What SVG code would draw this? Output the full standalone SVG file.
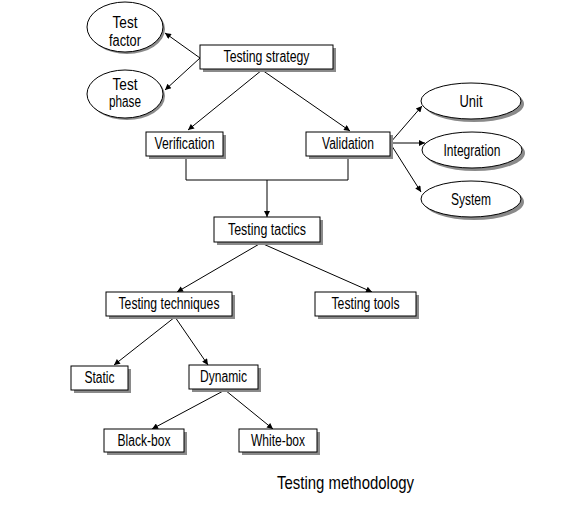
<svg xmlns="http://www.w3.org/2000/svg" width="582" height="508" viewBox="0 0 582 508">
<style>
.box{fill:#fff;stroke:#000;stroke-width:1}
.sh{fill:#8a8a8a}
.t{font-family:"Liberation Sans",Arial,sans-serif;font-size:16px;fill:#000;text-anchor:middle}
.c{fill:none;stroke:#000;stroke-width:1;marker-end:url(#ah)}
.l{fill:none;stroke:#000;stroke-width:1}
</style>
<defs>
<marker id="ah" viewBox="0 0 10 10" refX="10" refY="5" markerWidth="9" markerHeight="6" markerUnits="userSpaceOnUse" orient="auto">
<path d="M0,0 L10,5 L0,10 z" fill="#000"/>
</marker>
</defs>
<rect width="582" height="508" fill="#fff"/>
<g id="connectors">
<line class="c" x1="200" y1="58" x2="165" y2="33"/>
<line class="c" x1="200" y1="58" x2="165" y2="90"/>
<line class="c" x1="262" y1="70" x2="188" y2="130"/>
<line class="c" x1="262" y1="70" x2="350" y2="131"/>
<line class="c" x1="390" y1="143" x2="422" y2="106"/>
<line class="c" x1="390" y1="143" x2="425" y2="143"/>
<line class="c" x1="390" y1="143" x2="421" y2="192"/>
<polyline class="l" points="186,156 186,180 348,180 348,156"/>
<line class="c" x1="267" y1="180" x2="267" y2="217"/>
<line class="c" x1="261" y1="243" x2="177" y2="292"/>
<line class="c" x1="261" y1="243" x2="372" y2="292"/>
<line class="c" x1="175" y1="317" x2="114" y2="365"/>
<line class="c" x1="175" y1="317" x2="208" y2="365"/>
<line class="c" x1="225" y1="390" x2="152" y2="429"/>
<line class="c" x1="225" y1="390" x2="273" y2="429"/>
</g>
<g id="test-factor">
<ellipse class="sh" cx="127" cy="29" rx="38" ry="25"/>
<ellipse class="box" cx="125" cy="27" rx="38" ry="25"/>
<text class="t" x="125" y="28" textLength="25" lengthAdjust="spacingAndGlyphs">Test</text>
<text class="t" x="125" y="46" textLength="32" lengthAdjust="spacingAndGlyphs">factor</text>
</g>
<g id="test-phase">
<ellipse class="sh" cx="127" cy="96" rx="38" ry="24"/>
<ellipse class="box" cx="125" cy="94" rx="38" ry="24"/>
<text class="t" x="125" y="90" textLength="25" lengthAdjust="spacingAndGlyphs">Test</text>
<text class="t" x="125" y="107" textLength="32" lengthAdjust="spacingAndGlyphs">phase</text>
</g>
<g id="testing-strategy">
<rect class="sh" x="203" y="48" width="133" height="24"/>
<rect class="box" x="200" y="45" width="133" height="24"/>
<text class="t" x="266.5" y="62" textLength="86" lengthAdjust="spacingAndGlyphs">Testing strategy</text>
</g>
<g id="verification">
<rect class="sh" x="149" y="135" width="77" height="24"/>
<rect class="box" x="146" y="132" width="77" height="24"/>
<text class="t" x="184.5" y="149" textLength="60" lengthAdjust="spacingAndGlyphs">Verification</text>
</g>
<g id="validation">
<rect class="sh" x="309" y="135" width="84" height="24"/>
<rect class="box" x="306" y="132" width="84" height="24"/>
<text class="t" x="348" y="149" textLength="52" lengthAdjust="spacingAndGlyphs">Validation</text>
</g>
<g id="unit">
<ellipse class="sh" cx="474" cy="104" rx="50" ry="18"/>
<ellipse class="box" cx="471" cy="101" rx="50" ry="18"/>
<text class="t" x="471" y="106.5" textLength="23" lengthAdjust="spacingAndGlyphs">Unit</text>
</g>
<g id="integration">
<ellipse class="sh" cx="475" cy="153" rx="50" ry="18"/>
<ellipse class="box" cx="472" cy="150" rx="50" ry="18"/>
<text class="t" x="472" y="155.5" textLength="57" lengthAdjust="spacingAndGlyphs">Integration</text>
</g>
<g id="system">
<ellipse class="sh" cx="474" cy="202" rx="50" ry="18"/>
<ellipse class="box" cx="471" cy="199" rx="50" ry="18"/>
<text class="t" x="471" y="204.5" textLength="40" lengthAdjust="spacingAndGlyphs">System</text>
</g>
<g id="testing-tactics">
<rect class="sh" x="217" y="220" width="106" height="25"/>
<rect class="box" x="214" y="217" width="106" height="25"/>
<text class="t" x="267" y="234.5" textLength="78" lengthAdjust="spacingAndGlyphs">Testing tactics</text>
</g>
<g id="testing-techniques">
<rect class="sh" x="109" y="295" width="126" height="24"/>
<rect class="box" x="106" y="292" width="126" height="24"/>
<text class="t" x="169" y="309" textLength="101" lengthAdjust="spacingAndGlyphs">Testing techniques</text>
</g>
<g id="testing-tools">
<rect class="sh" x="318" y="295" width="101" height="24"/>
<rect class="box" x="315" y="292" width="101" height="24"/>
<text class="t" x="365.5" y="309" textLength="68" lengthAdjust="spacingAndGlyphs">Testing tools</text>
</g>
<g id="static">
<rect class="sh" x="74" y="369" width="57" height="24"/>
<rect class="box" x="71" y="366" width="57" height="24"/>
<text class="t" x="99.5" y="383" textLength="30" lengthAdjust="spacingAndGlyphs">Static</text>
</g>
<g id="dynamic">
<rect class="sh" x="192" y="368" width="69" height="24"/>
<rect class="box" x="189" y="365" width="69" height="24"/>
<text class="t" x="223.5" y="382" textLength="47" lengthAdjust="spacingAndGlyphs">Dynamic</text>
</g>
<g id="black-box">
<rect class="sh" x="107" y="432" width="80" height="23"/>
<rect class="box" x="104" y="429" width="80" height="23"/>
<text class="t" x="144" y="445.5" textLength="53" lengthAdjust="spacingAndGlyphs">Black-box</text>
</g>
<g id="white-box">
<rect class="sh" x="242" y="432" width="78" height="23"/>
<rect class="box" x="239" y="429" width="78" height="23"/>
<text class="t" x="278" y="445.5" textLength="54" lengthAdjust="spacingAndGlyphs">White-box</text>
</g>
<text class="t" x="345.5" y="489" style="font-size:19px" textLength="137" lengthAdjust="spacingAndGlyphs">Testing methodology</text>
</svg>
